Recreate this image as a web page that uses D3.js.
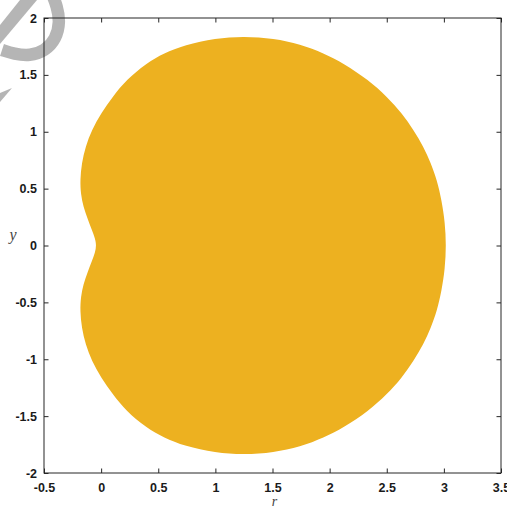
<!DOCTYPE html>
<html>
<head>
<meta charset="utf-8">
<script src="https://cdn.jsdelivr.net/npm/d3@7"></script>
<style>
  body { margin: 0; background: #fff; }
  svg { display: block; }
</style>
</head>
<body>
<svg class="viz"></svg>
<script>
var width = 507,
  height = 509;

var margin = { left: 44, right: 6, top: 18, bottom: 36 };

// outline of the filled region (r, y), going round anticlockwise from the right
var outline_r = [3.02, 3.01, 2.98, 2.939, 2.886, 2.822, 2.734, 2.633, 2.502, 2.341, 2.122, 1.95, 1.743, 1.51, 1.25,
  1.00, 0.73, 0.55, 0.394, 0.219, 0.101, 0.0, -0.082, -0.137, -0.170, -0.184, -0.178, -0.155, -0.12, -0.082, -0.052, -0.042,
  -0.052, -0.082, -0.12, -0.155, -0.178, -0.184, -0.170, -0.137, -0.082, 0.0, 0.101, 0.219, 0.394, 0.55, 0.73, 1.00,
  1.25, 1.51, 1.743, 1.95, 2.122, 2.341, 2.502, 2.633, 2.734, 2.822, 2.886, 2.939, 2.98, 3.01];
var outline_y = [0, 0.20, 0.40, 0.576, 0.723, 0.869, 1.015, 1.162, 1.308, 1.455, 1.602, 1.69, 1.771, 1.82, 1.84,
  1.822, 1.763, 1.69, 1.602, 1.455, 1.308, 1.162, 1.015, 0.869, 0.723, 0.576, 0.45, 0.34, 0.24, 0.14, 0.06, 0,
  -0.06, -0.14, -0.24, -0.34, -0.45, -0.576, -0.723, -0.869, -1.015, -1.162, -1.308, -1.455, -1.602, -1.69, -1.763, -1.822,
  -1.84, -1.82, -1.771, -1.69, -1.602, -1.455, -1.308, -1.162, -1.015, -0.869, -0.723, -0.576, -0.40, -0.20];

var x_ticks = [-0.5, 0, 0.5, 1, 1.5, 2, 2.5, 3, 3.5];
var y_ticks = [-2, -1.5, -1, -0.5, 0, 0.5, 1, 1.5, 2];

var fill_color = "#EDB120",
  axis_color = "#262626";

var viz = d3.select(".viz")
  .attr("width", width)
  .attr("height", height);

var x = d3.scaleLinear().domain([-0.5, 3.5]).range([margin.left, width - margin.right]);
var y = d3.scaleLinear().domain([-2, 2]).range([height - margin.bottom, margin.top]);

// grey stamp in the top-left corner
var mark = viz.append("g").attr("fill", "#b5b5b5");
mark.append("path")
  .attr("d", "M20,0 L37,0 L0,44 L0,25 Z");
mark.append("path")
  .attr("d", "M0,93 L12,88 L0,102 Z");
mark.append("path")
  .attr("fill", "none")
  .attr("stroke", "#b5b5b5")
  .attr("stroke-width", 12.5)
  .attr("d", d3.line().curve(d3.curveBasis)([[2, 50], [14, 54], [30, 56], [45, 51], [56, 39], [60, 22], [57, 6], [52, -6]]));

// filled shape (basis spline smooths the hand-read points)
var pts = outline_r.map(function(d, i) { return [x(d), y(outline_y[i])]; });
viz.append("path")
  .attr("d", d3.line().curve(d3.curveBasisClosed)(pts))
  .attr("fill", fill_color);

// axes box with inward ticks on all sides
var tick_len = 4.5;
var fmt = function(d) { return String(d); };
function style_axis(g) {
  g.select(".domain").remove();
  g.selectAll("line").attr("stroke", axis_color);
  g.selectAll("text")
    .attr("fill", "#1a1a1a")
    .style("font-family", "Liberation Sans, Arial, sans-serif")
    .style("font-weight", "bold")
    .style("font-size", "12.5px");
}

viz.append("g")
  .attr("transform", "translate(0," + y(-2) + ")")
  .call(d3.axisBottom(x).tickValues(x_ticks).tickSize(-tick_len).tickPadding(10).tickFormat(fmt))
  .call(style_axis);
viz.append("g")
  .attr("transform", "translate(0," + y(2) + ")")
  .call(d3.axisTop(x).tickValues(x_ticks).tickSize(-tick_len).tickFormat(""))
  .call(style_axis);
viz.append("g")
  .attr("transform", "translate(" + x(-0.5) + ",0)")
  .call(d3.axisLeft(y).tickValues(y_ticks).tickSize(-tick_len).tickPadding(7).tickFormat(fmt))
  .call(style_axis);
viz.append("g")
  .attr("transform", "translate(" + x(3.5) + ",0)")
  .call(d3.axisRight(y).tickValues(y_ticks).tickSize(-tick_len).tickFormat(""))
  .call(style_axis);

viz.append("rect")
  .attr("x", x(-0.5))
  .attr("y", y(2))
  .attr("width", x(3.5) - x(-0.5))
  .attr("height", y(-2) - y(2))
  .attr("fill", "none")
  .attr("stroke", axis_color)
  .attr("stroke-width", 1);

// axis labels
viz.append("text")
  .attr("x", x(1.5) + 2)
  .attr("y", 506)
  .attr("text-anchor", "middle")
  .style("font-family", "Liberation Serif, serif")
  .style("font-style", "italic")
  .style("font-size", "14px")
  .attr("fill", "#444")
  .text("r");
viz.append("text")
  .attr("x", 13)
  .attr("y", 240)
  .attr("text-anchor", "middle")
  .style("font-family", "Liberation Serif, serif")
  .style("font-style", "italic")
  .style("font-size", "16px")
  .attr("fill", "#444")
  .text("y");
</script>
</body>
</html>
